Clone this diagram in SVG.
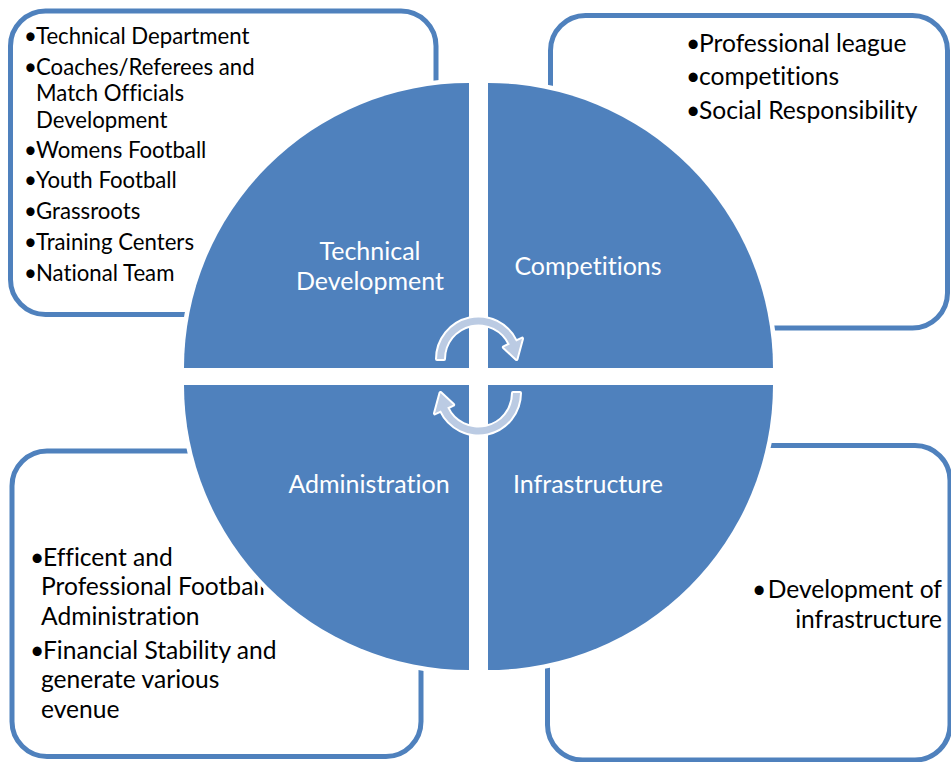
<svg xmlns="http://www.w3.org/2000/svg" width="951" height="762" viewBox="0 0 951 762">
<style>
text{font-family:Lato,"Liberation Sans",sans-serif;font-variant-ligatures:none}
.box{fill:#ffffff;stroke:#4F81BD;stroke-width:5}
.q{fill:#4F81BD;stroke:#ffffff;stroke-width:9;paint-order:stroke;stroke-linejoin:miter}
.t{font-size:22.2px;fill:#000000}
.tr{font-size:24.6px;fill:#000000}
.lbl{font-size:25px;fill:#ffffff;text-anchor:middle}
.arr{fill:#BBCBE3;stroke:#ffffff;stroke-width:4;stroke-linejoin:round;paint-order:stroke}
</style>
<rect width="951" height="762" fill="#ffffff"/>
<g id="box-technical">
<rect class="box" x="10.5" y="11" width="425.5" height="303.5" rx="35"/>
<text class="t"><tspan x="24" y="44">•</tspan><tspan x="36" y="44">Technical Department</tspan></text>
<text class="t"><tspan x="24" y="75">•</tspan><tspan x="36" y="75">Coaches/Referees and</tspan><tspan x="36" y="101">Match Officials</tspan><tspan x="36" y="128">Development</tspan></text>
<text class="t"><tspan x="24" y="158">•</tspan><tspan x="36" y="158">Womens Football</tspan></text>
<text class="t"><tspan x="24" y="188">•</tspan><tspan x="36" y="188">Youth Football</tspan></text>
<text class="t"><tspan x="24" y="219">•</tspan><tspan x="36" y="219">Grassroots</tspan></text>
<text class="t"><tspan x="24" y="250">•</tspan><tspan x="36" y="250">Training Centers</tspan></text>
<text class="t"><tspan x="24" y="281">•</tspan><tspan x="36" y="281">National Team</tspan></text>
</g>
<g id="box-competitions">
<rect class="box" x="550.5" y="15.5" width="397" height="312.5" rx="35"/>
<text class="tr"><tspan x="686" y="52">•</tspan><tspan x="699" y="52">Professional league</tspan></text>
<text class="tr"><tspan x="686" y="85">•</tspan><tspan x="699" y="85">competitions</tspan></text>
<text class="tr"><tspan x="686" y="119">•</tspan><tspan x="699" y="119">Social Responsibility</tspan></text>
</g>
<g id="box-administration">
<rect class="box" x="12" y="451" width="409" height="305.5" rx="35"/>
<text class="tr"><tspan x="30" y="566">•</tspan><tspan x="43" y="566">Efficent and</tspan><tspan x="41" y="595">Professional Football</tspan><tspan x="41" y="625">Administration</tspan></text>
<text class="tr"><tspan x="30" y="659">•</tspan><tspan x="43" y="659">Financial Stability and</tspan><tspan x="41" y="688">generate various</tspan><tspan x="41" y="718">evenue</tspan></text>
</g>
<g id="box-infrastructure">
<rect class="box" x="547.5" y="445.5" width="402.5" height="314.5" rx="35"/>
<text class="tr" x="752" y="598">•</text>
<text class="tr" text-anchor="end" x="942" y="598">Development of</text>
<text class="tr" text-anchor="end" x="942" y="628">infrastructure</text>
</g>
<g id="quadrant-technical">
<path class="q" d="M469 368 L184 368 A285 285 0 0 1 469 83 Z"/>
<text class="lbl"><tspan x="370" y="260">Technical</tspan><tspan x="370" y="290">Development</tspan></text>
</g>
<g id="quadrant-competitions">
<path class="q" d="M488 368 L488 83 A285 285 0 0 1 773 368 Z"/>
<text class="lbl" x="588" y="275">Competitions</text>
</g>
<g id="quadrant-administration">
<path class="q" d="M469 385 L469 670 A285 285 0 0 1 184 385 Z"/>
<text class="lbl" x="369" y="493">Administration</text>
</g>
<g id="quadrant-infrastructure">
<path class="q" d="M488 385 L773 385 A285 285 0 0 1 488 670 Z"/>
<text class="lbl" x="588" y="493">Infrastructure</text>
</g>
<g id="connectors">
<path id="cycle-top" class="arr" d="M437 359 A41.5 41.5 0 0 1 516.1 341.5 L522 338.7 L516.5 359 L503.9 347.2 L509.8 344.4 A34.5 34.5 0 0 0 444 359 Z"/>
<path id="cycle-bottom" class="arr" transform="rotate(180 478.5 376)" d="M437 359 A41.5 41.5 0 0 1 516.1 341.5 L522 338.7 L516.5 359 L503.9 347.2 L509.8 344.4 A34.5 34.5 0 0 0 444 359 Z"/>
</g>
</svg>
